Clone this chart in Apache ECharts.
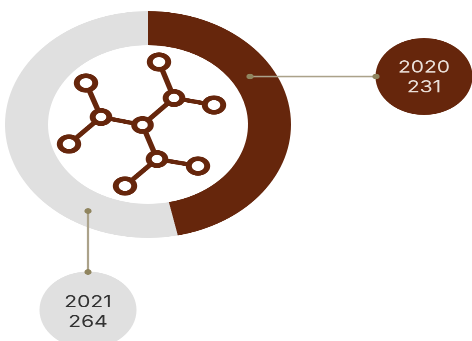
<!DOCTYPE html>
<html>
<head>
<meta charset="utf-8">
<style>
  html, body { margin: 0; padding: 0; background: #fff; overflow: hidden; width: 472px; height: 341px; }
  /* The whole chart is flattened vertically, so circles read as ellipses. */
  #chart { width: 472px; height: 430px; transform-origin: 0 0; transform: scaleY(0.793); }
</style>
<script src="https://cdn.jsdelivr.net/npm/echarts@6/dist/echarts.min.js"></script>
</head>
<body>
<div id="chart"></div>
<script>
const years = ['2020', '2021'];
const counts = [231, 264];
const sliceColors = ['#66260c', '#e0e0e0'];
const labelColors = ['#eadfd8', '#333333'];

const flatten = 0.793;
const Y = y => y / flatten;

const LEADER = '#aba28a';
const DOT = '#90855f';
const INK = '#66260c';

// Callout bubbles: centre, leader start on the ring, leader end on the bubble.
const callouts = [
  { cx: 424, cy: 76.5, from: [250, 76.5], to: [376, 76.5] },
  { cx: 88, cy: 310, from: [88, 211], to: [88, 272] }
];

// Molecule icon drawn in the hole of the ring.
const hubs = [[142.5, 125], [174, 98], [101, 117], [157, 159]];
const tips = [[159, 62], [214, 105], [86, 83], [69, 144], [198, 166], [125, 186]];
const bonds = [
  [0, 1], [0, 2], [0, 3],
  [1, 't0'], [1, 't1'], [2, 't2'], [2, 't3'], [3, 't4'], [3, 't5']
];

function moleculeElements() {
  const pt = k => (typeof k === 'string' ? tips[+k.slice(1)] : hubs[k]);
  const out = bonds.map(([a, b]) => ({
    type: 'line', z: 10,
    shape: { x1: pt(a)[0], y1: Y(pt(a)[1]), x2: pt(b)[0], y2: Y(pt(b)[1]) },
    style: { stroke: INK, lineWidth: 5.5 },
    silent: true
  }));
  hubs.forEach(p => out.push({
    type: 'circle', z: 11, shape: { cx: p[0], cy: Y(p[1]), r: 8.3 },
    style: { fill: '#fff', stroke: INK, lineWidth: 6 }, silent: true
  }));
  tips.forEach(p => out.push({
    type: 'circle', z: 11, shape: { cx: p[0], cy: Y(p[1]), r: 9.2 },
    style: { fill: '#fff', stroke: INK, lineWidth: 6 }, silent: true
  }));
  return out;
}

function calloutElements() {
  const out = [];
  callouts.forEach((c, i) => {
    out.push({
      type: 'circle', z: 10, shape: { cx: c.cx, cy: Y(c.cy), r: 48.5 },
      style: { fill: sliceColors[i] }, silent: true
    });
    out.push({
      type: 'line', z: 11,
      shape: { x1: c.from[0], y1: Y(c.from[1]), x2: c.to[0], y2: Y(c.to[1]) },
      style: { stroke: LEADER, lineWidth: 2.2 }, silent: true
    });
    [c.from, c.to].forEach(p => out.push({
      type: 'circle', z: 12, shape: { cx: p[0], cy: Y(p[1]), r: 3.6 },
      style: { fill: DOT }, silent: true
    }));
    out.push({
      type: 'text', z: 13, x: c.cx, y: Y(c.cy + (i === 0 ? 1 : 2)), silent: true,
      style: {
        text: years[i] + '\n' + counts[i],
        fill: labelColors[i],
        font: '400 21px Inter, Lato, sans-serif',
        lineHeight: 25,
        align: 'center',
        verticalAlign: 'middle'
      }
    });
  });
  return out;
}

const chart = echarts.init(document.getElementById('chart'), null, { devicePixelRatio: 2 });
chart.setOption({
  animation: false,
  backgroundColor: '#fff',
  series: [{
    type: 'pie',
    center: [148, Y(124.5)],
    radius: [100, 143],
    startAngle: 90,
    clockwise: true,
    silent: true,
    label: { show: false },
    labelLine: { show: false },
    data: years.map((y, i) => ({
      name: y,
      value: counts[i],
      itemStyle: { color: sliceColors[i] }
    }))
  }],
  graphic: { elements: moleculeElements().concat(calloutElements()) }
});
</script>
</body>
</html>
